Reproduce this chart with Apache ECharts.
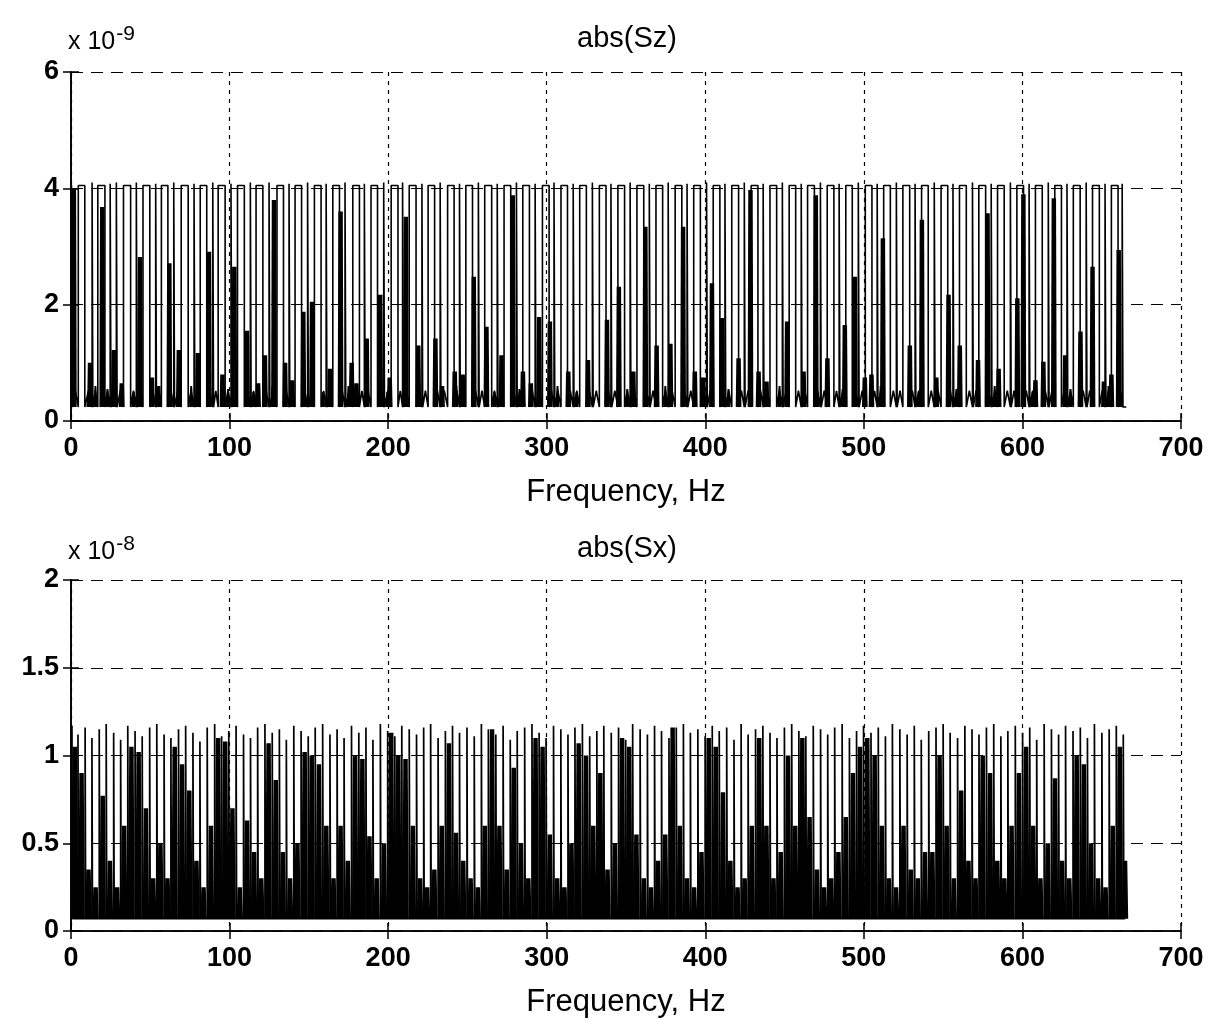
<!DOCTYPE html>
<html><head><meta charset="utf-8">
<script src="https://cdn.jsdelivr.net/npm/echarts@6/dist/echarts.min.js"></script>
<style>html,body{margin:0;padding:0;background:#fff}#c{width:1213px;height:1024px}</style>
</head><body><div id="c"></div>
<script>
// ---- data (y in units of 1e-9 for Sz, 1e-8 for Sx) ----
const xTicks = [0, 100, 200, 300, 400, 500, 600, 700];
const szYTicks = [0, 2, 4, 6];
const sxYTicks = [0, 0.5, 1, 1.5, 2];
const szTitle = 'abs(Sz)';
const sxTitle = 'abs(Sx)';
const xName = 'Frequency, Hz';
const szExp = '-9';
const sxExp = '-8';

// Sz tall lines: [startHz, endHz, top]  (flat top between start and end)
const szTops = [[0.3,0.9,4.06],[4.6,8.7,4.05],[13.3,13.8,4.1],[16.9,21.4,4.05],[24.7,25.2,4.08],[28.6,29.1,4.1],[33.1,37.6,4.05],[41.2,41.7,4.1],[45.4,49.7,4.05],[53.4,53.9,4.08],[57.0,61.1,4.05],[64.8,65.3,4.1],[69.5,73.9,4.05],[77.6,78.1,4.08],[81.5,85.6,4.05],[89.4,89.9,4.1],[92.8,97.2,4.05],[100.9,101.4,4.08],[105.0,109.3,4.05],[113.1,113.6,4.1],[116.7,121.0,4.05],[124.9,125.4,4.1],[129.9,134.0,4.05],[137.5,138.0,4.08],[141.3,145.4,4.05],[149.2,149.7,4.1],[153.5,157.7,4.05],[160.9,161.4,4.08],[165.1,169.3,4.05],[172.8,173.3,4.1],[177.7,181.9,4.05],[185.0,185.5,4.08],[189.2,193.3,4.05],[197.2,197.7,4.1],[201.9,206.2,4.05],[209.1,209.6,4.1],[213.3,217.6,4.05],[221.3,221.8,4.08],[225.2,229.3,4.05],[232.8,233.3,4.1],[237.5,241.6,4.05],[245.0,245.5,4.08],[249.0,253.2,4.05],[256.9,257.4,4.1],[260.9,265.3,4.05],[268.8,269.3,4.08],[273.1,277.3,4.05],[280.9,281.4,4.1],[284.9,289.1,4.05],[292.7,293.2,4.08],[297.3,301.5,4.05],[304.6,305.1,4.1],[309.0,313.1,4.05],[316.7,317.2,4.08],[320.8,325.0,4.05],[328.8,329.3,4.1],[333.2,337.4,4.05],[340.5,341.0,4.08],[344.9,349.1,4.05],[352.6,353.1,4.1],[356.9,361.2,4.05],[364.7,365.2,4.08],[368.9,373.1,4.05],[376.6,377.1,4.1],[381.0,385.2,4.05],[388.5,389.0,4.08],[392.7,396.9,4.05],[400.8,401.3,4.1],[405.0,409.2,4.05],[412.4,412.9,4.08],[416.7,421.0,4.05],[424.6,425.1,4.1],[428.9,433.2,4.05],[436.5,437.0,4.08],[440.8,445.0,4.05],[448.6,449.1,4.1],[452.9,457.0,4.05],[460.5,461.0,4.08],[464.5,468.8,4.05],[472.6,473.1,4.1],[476.9,481.1,4.05],[484.4,484.9,4.08],[488.6,492.7,4.05],[496.5,497.0,4.1],[500.9,505.1,4.05],[508.4,508.9,4.08],[512.5,516.7,4.05],[520.5,521.0,4.1],[524.6,528.9,4.05],[532.3,532.8,4.08],[536.4,540.6,4.05],[544.4,544.9,4.1],[548.7,552.9,4.05],[556.2,556.7,4.08],[560.3,564.6,4.05],[568.5,569.0,4.1],[572.5,576.8,4.05],[580.3,580.8,4.08],[584.3,588.5,4.05],[592.4,592.9,4.1],[596.5,600.7,4.05],[604.2,604.7,4.08],[608.2,612.5,4.05],[616.3,616.8,4.1],[620.4,624.6,4.05],[628.1,628.6,4.08],[632.1,636.4,4.05],[640.2,640.7,4.1],[644.2,648.5,4.05],[652.1,652.6,4.08],[656.1,660.3,4.05],[662.9,663.4,4.08]];
// Sz dense dark clusters: [centreHz, height]
const szSlabs = [[1.8,4.0],[12,1.0],[19.7,3.68],[27,1.22],[32,0.65],[43.5,2.82],[51,0.75],[55,0.6],[62,2.71],[68,1.22],[80,1.17],[87,2.91],[95.5,0.8],[103,2.65],[111,1.55],[118,0.65],[122.3,1.13],[128,3.8],[135,1.0],[139.5,0.7],[146.5,1.88],[152,2.05],[163.3,0.9],[170,3.6],[177,1.0],[180,0.65],[186.5,1.42],[195,2.17],[201,0.75],[211.2,3.51],[219,1.3],[229.8,1.42],[234,0.6],[242,0.85],[247,0.8],[254,2.48],[262,1.62],[271.5,1.13],[278.6,3.88],[285,0.85],[290,0.65],[295.2,1.79],[302,1.71],[313.6,0.85],[326,1.05],[338,1.74],[345.5,2.31],[354.6,0.85],[362.2,3.34],[369.3,1.3],[378,1.33],[386,3.34],[393.4,0.85],[398.7,0.75],[404.2,2.37],[410.5,1.77],[421,1.08],[428.5,3.97],[433.6,0.85],[438.6,0.68],[451.6,1.71],[462,0.85],[469.7,3.88],[477,1.08],[488,1.65],[494.3,2.48],[500.6,0.75],[504.8,0.8],[512,3.14],[529,1.3],[536.6,3.46],[545.7,0.75],[553.4,2.17],[560.5,1.3],[572,1.05],[578,3.57],[585,0.9],[596.8,2.11],[600.6,3.9],[608.2,0.7],[613.2,1.02],[619.8,3.83],[627,1.13],[636.6,1.54],[644.2,2.65],[651.4,0.68],[656.1,0.8],[660.7,2.94]];
// Sz small humps near the floor: [centreHz, height]
const szHumps = [[11,0.5],[15.4,0.6],[23,0.55],[39.5,0.5],[63,0.55],[75.8,0.6],[99,0.55],[115,0.5],[127,0.6],[147.5,0.55],[159,0.5],[175,0.6],[199.5,0.5],[219.5,0.55],[243,0.6],[267,0.5],[282.8,0.55],[306.8,0.6],[318.8,0.5],[350.8,0.55],[374.8,0.6],[398.8,0.5],[414.6,0.55],[446.8,0.6],[470.8,0.5],[486.6,0.55],[510.6,0.6],[534.6,0.5],[558.4,0.55],[582.5,0.6],[606.4,0.5],[630.3,0.55],[654.3,0.6]];
const szFloor = 0.24;
const szBump = 0.52;
const szEnd = 665.5;

// Sx tall lines: [Hz, top, height of the dark cluster that follows]
const sxLines = [[0.6,1.17,1.05],[4.4,1.12,0.9],[8.9,1.16,0.35],[13.2,1.10,0.25],[17.8,1.15,0.77],[22.2,1.18,0.4],[26.9,1.13,0.25],[31.3,1.09,0.6],[35.8,1.17,1.05],[40.4,1.14,1.02],[44.9,1.11,0.7],[49.6,1.16,0.3],[54.1,1.18,0.5],[58.7,1.12,0.3],[63.0,1.10,1.05],[67.8,1.15,0.95],[72.3,1.17,0.8],[76.9,1.13,0.4],[81.3,1.08,0.25],[85.9,1.16,0.6],[90.6,1.18,1.1],[95.0,1.11,1.08],[99.5,1.14,0.7],[104.1,1.17,0.25],[108.8,1.12,0.63],[113.2,1.10,0.45],[117.7,1.16,0.3],[122.3,1.18,1.07],[126.9,1.13,0.86],[131.4,1.15,0.45],[135.8,1.09,0.3],[140.5,1.17,0.5],[145.1,1.14,1.02],[149.6,1.11,1.0],[154.0,1.16,0.95],[158.7,1.18,0.6],[163.3,1.12,0.3],[167.8,1.15,0.6],[172.2,1.10,0.4],[176.9,1.17,1.0],[181.5,1.13,0.98],[186.0,1.16,0.54],[190.4,1.09,0.3],[195.1,1.18,0.5],[199.7,1.14,1.13],[204.2,1.11,1.0],[208.6,1.17,0.98],[213.3,1.15,0.6],[217.9,1.12,0.3],[222.4,1.16,0.25],[226.8,1.18,0.35],[231.5,1.10,0.6],[236.1,1.14,1.07],[240.6,1.17,0.56],[245.0,1.13,0.4],[249.7,1.16,0.3],[254.3,1.11,0.25],[258.8,1.18,0.6],[263.2,1.15,1.15],[267.9,1.12,0.6],[272.5,1.17,0.35],[277.0,1.09,0.93],[281.4,1.14,0.5],[286.1,1.16,0.3],[290.7,1.18,1.1],[295.2,1.13,1.05],[299.6,1.10,0.55],[304.3,1.17,0.3],[308.9,1.15,0.25],[313.4,1.12,0.5],[317.8,1.16,1.07],[322.5,1.18,1.0],[327.1,1.11,0.6],[331.6,1.14,0.9],[336.0,1.17,0.35],[340.7,1.13,0.5],[345.3,1.16,1.1],[349.8,1.09,1.05],[354.2,1.18,0.55],[358.9,1.15,0.3],[363.5,1.12,0.25],[368.0,1.17,0.4],[372.4,1.14,0.55],[377.1,1.10,1.16],[381.7,1.16,0.6],[386.2,1.18,0.3],[390.6,1.13,0.25],[395.3,1.15,0.45],[399.9,1.11,1.1],[404.4,1.17,1.05],[408.8,1.14,0.79],[413.5,1.16,0.4],[418.1,1.09,0.25],[422.6,1.18,0.3],[427.0,1.12,0.6],[431.7,1.15,1.1],[436.3,1.17,0.6],[440.8,1.13,0.3],[445.2,1.10,0.45],[449.9,1.16,1.0],[454.5,1.18,0.6],[459.0,1.14,1.1],[463.4,1.11,0.65],[468.1,1.17,0.35],[472.7,1.15,0.25],[477.2,1.12,0.3],[481.6,1.16,0.45],[486.3,1.18,0.65],[490.9,1.10,0.9],[495.4,1.14,1.05],[499.8,1.17,1.1],[504.5,1.13,1.0],[509.1,1.16,0.6],[513.6,1.11,0.3],[518.0,1.18,0.25],[522.7,1.15,0.6],[527.3,1.12,0.35],[531.8,1.17,0.3],[536.2,1.09,0.45],[540.9,1.14,0.45],[545.5,1.16,1.0],[550.0,1.18,0.6],[554.4,1.13,0.3],[559.1,1.10,0.8],[563.7,1.17,0.4],[568.2,1.15,0.3],[572.6,1.12,1.0],[577.3,1.16,0.9],[581.9,1.18,0.4],[586.4,1.11,0.3],[590.8,1.14,0.6],[595.5,1.17,0.9],[600.1,1.13,1.05],[604.6,1.16,0.6],[609.0,1.09,0.3],[613.7,1.18,0.5],[618.3,1.15,0.87],[622.8,1.12,0.4],[627.2,1.17,0.3],[631.9,1.14,1.0],[636.5,1.16,0.95],[641.0,1.10,0.5],[645.4,1.18,0.3],[650.1,1.13,0.25],[654.7,1.15,0.6],[659.2,1.17,1.05],[663.6,1.12,0.4]];
const sxFloor = 0.07;
const sxEnd = 664.8;

// ---- construction of marks from the data ----
function buildSzLine(tops, floor, bump, end) {
  const pts = [];
  for (let i = 0; i < tops.length; i++) {
    const [a, b, h] = tops[i];
    if (i > 0) pts.push([(tops[i - 1][1] + a) / 2, bump]);
    pts.push([a, floor], [a, h], [b, h], [b, floor]);
  }
  pts.push([end, floor]);
  return pts;
}
function buildSxLine(lines, floor, end) {
  const pts = [];
  for (const [f, top] of lines) {
    pts.push([f, floor], [f, top], [f + 0.35, top], [f + 0.35, floor]);
  }
  pts.push([end, floor]);
  return pts;
}
function sxClusters(lines) {
  return lines.map((d, i) => {
    const next = i + 1 < lines.length ? lines[i + 1][0] : d[0] + 2.2;
    return [(d[0] + next) / 2, d[2]];
  });
}

const chart = echarts.init(document.getElementById('c'), null, {renderer: 'canvas'});
const FONT = '"Liberation Sans", Arial, sans-serif';

function clusterRender(floor, halfBottom, halfTop) {
  return function (params, api) {
    const f = api.value(0), h = api.value(1);
    const p0 = api.coord([f - halfBottom, floor]);
    const p1 = api.coord([f + halfBottom, floor]);
    const q0 = api.coord([f - halfTop, h]);
    const q1 = api.coord([f + halfTop, h]);
    return {type: 'polygon', shape: {points: [p0, q0, q1, p1]}, style: {fill: '#000'}};
  };
}

const tickStyle = {show: true, inside: true, length: 8, lineStyle: {color: '#000', width: 1.5}};
const lineAx = {show: true, lineStyle: {color: '#000', width: 1.6}};
function xAxes(gi) {
  return [{
    gridIndex: gi, type: 'value', min: xTicks[0], max: xTicks[xTicks.length - 1], interval: xTicks[1] - xTicks[0],
    position: 'bottom', axisLine: lineAx, axisTick: tickStyle,
    axisLabel: {color: '#000', fontSize: 27, fontWeight: 'bold', fontFamily: FONT, margin: 14},
    splitLine: {show: true, lineStyle: {color: '#000', type: [4, 5], width: 1.2}},
    name: xName, nameLocation: 'middle', nameGap: 56,
    nameTextStyle: {color: '#000', fontSize: 31, fontFamily: FONT}
  }, {
    gridIndex: gi, type: 'value', min: xTicks[0], max: xTicks[xTicks.length - 1], interval: xTicks[1] - xTicks[0],
    position: 'top', axisLine: lineAx, axisTick: tickStyle, axisLabel: {show: false}, splitLine: {show: false}
  }];
}
function yAxes(gi, ticks) {
  const max = ticks[ticks.length - 1], interval = ticks[1] - ticks[0];
  return [{
    gridIndex: gi, type: 'value', min: 0, max: max, interval: interval, position: 'left',
    axisLine: lineAx, axisTick: tickStyle,
    axisLabel: {color: '#000', fontSize: 27, fontWeight: 'bold', fontFamily: FONT, margin: 12},
    splitLine: {show: true, lineStyle: {color: '#000', type: [12, 8], width: 1.2}}
  }, {
    gridIndex: gi, type: 'value', min: 0, max: max, interval: interval, position: 'right',
    axisLine: lineAx, axisTick: tickStyle, axisLabel: {show: false}, splitLine: {show: false}
  }];
}
function expText(top, exp) {
  return {type: 'text', left: 68, top: top, style: {
    text: 'x 10{s|' + exp + '}', fill: '#000', font: '25px ' + FONT,
    rich: {s: {fontSize: 21, fontFamily: FONT, padding: [0, 0, 16, 1]}}}};
}

chart.setOption({
  backgroundColor: '#fff',
  animation: false,
  grid: [
    {left: 71, top: 72, width: 1110, height: 349},
    {left: 71, top: 580, width: 1110, height: 351}
  ],
  xAxis: [...xAxes(0), ...xAxes(1)],
  yAxis: [...yAxes(0, szYTicks), ...yAxes(1, sxYTicks)],
  title: [
    {text: szTitle, left: 622, top: 19, textAlign: 'center',
     textStyle: {color: '#000', fontSize: 29, fontWeight: 'normal', fontFamily: FONT}},
    {text: sxTitle, left: 622, top: 529, textAlign: 'center',
     textStyle: {color: '#000', fontSize: 29, fontWeight: 'normal', fontFamily: FONT}}
  ],
  graphic: [expText(24, szExp), expText(534, sxExp)],
  series: [
    {type: 'custom', xAxisIndex: 0, yAxisIndex: 0, renderItem: clusterRender(szFloor, 1.8, 1.4),
     data: szSlabs, silent: true, clip: true},
    {type: 'custom', xAxisIndex: 0, yAxisIndex: 0, renderItem: clusterRender(szFloor, 1.3, 0.6),
     data: szHumps, silent: true, clip: true},
    {type: 'line', xAxisIndex: 0, yAxisIndex: 0, data: buildSzLine(szTops, szFloor, szBump, szEnd),
     showSymbol: false, lineStyle: {color: '#000', width: 1.6}, silent: true},
    {type: 'custom', xAxisIndex: 2, yAxisIndex: 2, renderItem: clusterRender(sxFloor, 2.0, 1.4),
     data: sxClusters(sxLines), silent: true, clip: true},
    {type: 'line', xAxisIndex: 2, yAxisIndex: 2, data: buildSxLine(sxLines, sxFloor, sxEnd),
     showSymbol: false, lineStyle: {color: '#000', width: 1.7}, silent: true}
  ]
});
</script>
</body></html>
